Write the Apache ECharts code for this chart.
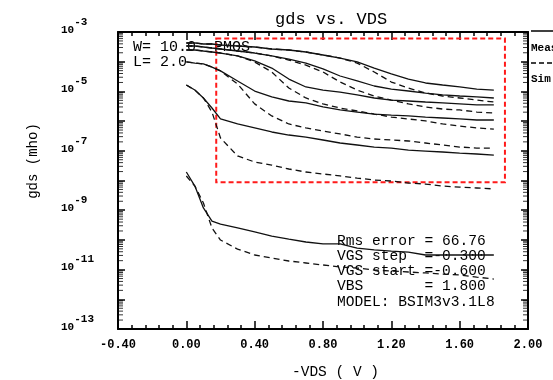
<!DOCTYPE html>
<html>
<head>
<meta charset="utf-8">
<title>gds vs. VDS</title>
<script src="https://cdn.jsdelivr.net/npm/echarts@6/dist/echarts.min.js"></script>
<style>
  html, body { margin: 0; padding: 0; background: #fff; }
  #chart { width: 553px; height: 380px; }
</style>
</head>
<body>
<div id="chart"></div>
<script>
// -VDS sample points (V), shared by every curve
const vds = [0, 0.05, 0.1, 0.15, 0.2, 0.3, 0.4, 0.5, 0.6, 0.7, 0.8, 0.9, 1.0, 1.1, 1.2, 1.3, 1.4, 1.5, 1.6, 1.7, 1.8]

// measured gds (mho), one array per VGS step (highest |VGS| first)
const meas1 = [4.27e-4, 4.27e-4, 3.94e-4, 3.94e-4, 3.65e-4, 3.38e-4, 3.13e-4, 2.68e-4, 2.48e-4, 2.12e-4, 1.68e-4, 1.33e-4, 9.8e-5, 6.1e-5, 3.9e-5, 2.6e-5, 1.92e-5, 1.64e-5, 1.41e-5, 1.2e-5, 1.11e-5]
const meas2 = [3.38e-4, 3.38e-4, 3.13e-4, 2.89e-4, 2.68e-4, 2.29e-4, 1.96e-4, 1.56e-4, 1.23e-4, 9.0e-5, 5.7e-5, 3.3e-5, 2.24e-5, 1.52e-5, 1.2e-5, 1.03e-5, 8.8e-6, 7.6e-6, 7.0e-6, 6.5e-6, 6.0e-6]
const meas3 = [2.48e-4, 2.48e-4, 2.29e-4, 2.12e-4, 1.96e-4, 1.56e-4, 1.06e-4, 6.1e-5, 2.6e-5, 1.41e-5, 1.11e-5, 9.5e-6, 7.6e-6, 6.0e-6, 5.1e-6, 4.75e-6, 4.4e-6, 4.1e-6, 3.8e-6, 3.5e-6, 3.5e-6]
const meas4 = [9.8e-5, 9.0e-5, 8.4e-5, 6.6e-5, 4.9e-5, 2.24e-5, 1.03e-5, 6.5e-6, 4.75e-6, 4.1e-6, 3.0e-6, 2.37e-6, 2.02e-6, 1.73e-6, 1.6e-6, 1.49e-6, 1.37e-6, 1.27e-6, 1.18e-6, 1.09e-6, 1.09e-6]
const meas5 = [1.64e-5, 1.11e-5, 6.0e-6, 2.76e-6, 1.18e-6, 8.0e-7, 5.9e-7, 4.3e-7, 3.4e-7, 2.9e-7, 2.31e-7, 1.83e-7, 1.57e-7, 1.34e-7, 1.24e-7, 1.06e-7, 9.8e-8, 9.1e-8, 8.4e-8, 7.8e-8, 7.2e-8]
const meas6 = [1.93e-8, 6.5e-9, 1.19e-9, 4.3e-10, 3.4e-10, 2.52e-10, 1.85e-10, 1.35e-10, 1.07e-10, 8.5e-11, 7.3e-11, 7.3e-11, 5.3e-11, 4.6e-11, 4.2e-11, 3.9e-11, 3.1e-11, 3.1e-11, 3.1e-11, 3.1e-11, 3.1e-11]

// simulated gds (mho), same VGS order
const sim1 = [4.27e-4, 4.27e-4, 3.94e-4, 3.94e-4, 3.65e-4, 3.38e-4, 3.13e-4, 2.68e-4, 2.48e-4, 2.12e-4, 1.68e-4, 1.33e-4, 9.0e-5, 4.5e-5, 2.07e-5, 1.3e-5, 8.8e-6, 7.0e-6, 6.0e-6, 5.1e-6, 4.4e-6]
const sim2 = [3.38e-4, 3.38e-4, 3.13e-4, 2.89e-4, 2.68e-4, 2.29e-4, 1.96e-4, 1.56e-4, 1.14e-4, 7.7e-5, 4.5e-5, 2.07e-5, 1.11e-5, 7.0e-6, 5.1e-6, 3.8e-6, 3.0e-6, 2.55e-6, 2.37e-6, 2.02e-6, 1.87e-6]
const sim3 = [2.48e-4, 2.48e-4, 2.29e-4, 2.12e-4, 1.96e-4, 1.56e-4, 9.8e-5, 4.5e-5, 1.3e-5, 6.0e-6, 3.8e-6, 2.76e-6, 2.19e-6, 1.73e-6, 1.37e-6, 1.18e-6, 1.01e-6, 8.0e-7, 6.8e-7, 5.9e-7, 5.4e-7]
const sim4 = [9.8e-5, 9.0e-5, 8.4e-5, 6.6e-5, 4.9e-5, 1.77e-5, 3.8e-6, 1.49e-6, 8.0e-7, 5.9e-7, 4.6e-7, 3.7e-7, 2.9e-7, 2.5e-7, 2.31e-7, 2.14e-7, 1.83e-7, 1.57e-7, 1.34e-7, 1.24e-7, 1.24e-7]
const sim5 = [1.64e-5, 1.11e-5, 6.0e-6, 2.02e-6, 2.7e-7, 6.7e-8, 4.2e-8, 3.3e-8, 2.44e-8, 1.93e-8, 1.66e-8, 1.42e-8, 1.21e-8, 1.04e-8, 9.6e-9, 8.2e-9, 7.6e-9, 6.5e-9, 6.0e-9, 5.6e-9, 5.2e-9]
const sim6 = [1.42e-8, 6.5e-9, 1.75e-9, 2.52e-10, 9.9e-11, 4.9e-11, 3.1e-11, 2.46e-11, 1.95e-11, 1.67e-11, 1.43e-11, 1.22e-11, 1.13e-11, 9.7e-12, 9.0e-12, 8.3e-12, 7.7e-12, 7.1e-12, 6.6e-12, 5.6e-12, 4.8e-12]

const measList = [meas1, meas2, meas3, meas4, meas5, meas6]
const simList = [sim1, sim2, sim3, sim4, sim5, sim6]

// axis ranges
const xRange = [-0.4, 2.0]
const yRange = [1e-13, 1e-3]

// red zoom box corners (VDS, gds)
const boxX = [0.175, 1.865]
const boxY = [6.1e-4, 8.7e-9]

// text block in lower right
const infoLines = [
  'Rms error = 66.76',
  'VGS step  =-0.300',
  'VGS start =-0.600',
  'VBS       = 1.800',
  'MODEL: BSIM3v3.1L8'
]

const mono = '"Liberation Mono", "DejaVu Sans Mono", monospace'

// log minor tick positions (2..9 in each decade) for the left and right frame
const minorLeft = []
const minorRight = []
for (let k = -13; k < -3; k++) {
  for (let d = 2; d <= 9; d++) {
    minorLeft.push([xRange[0], d * Math.pow(10, k)])
    minorRight.push([xRange[1], d * Math.pow(10, k)])
  }
}

function toPairs(arr) {
  return vds.map((x, i) => [x, arr[i]])
}

const series = []
measList.forEach((arr, i) => {
  series.push({
    type: 'line',
    data: toPairs(arr),
    showSymbol: false,
    lineStyle: { color: '#111', width: 1.3, type: 'solid' },
    // the red box sits on the first series
    markArea: i === 0 ? {
      silent: true,
      itemStyle: { color: 'rgba(0,0,0,0)', borderColor: '#ff1a1a', borderWidth: 2, borderType: [5, 3] },
      data: [[{ coord: [boxX[0], boxY[0]] }, { coord: [boxX[1], boxY[1]] }]]
    } : undefined
  })
})
simList.forEach(arr => {
  series.push({
    type: 'line',
    data: toPairs(arr),
    showSymbol: false,
    lineStyle: { color: '#111', width: 1.3, type: [6, 4] }
  })
})
// minor ticks drawn as thin rect symbols hugging the frame
series.push({
  type: 'scatter',
  data: minorLeft,
  symbol: 'rect',
  symbolSize: [5, 1],
  symbolOffset: [2.5, 0],
  itemStyle: { color: '#000' },
  silent: true,
  clip: false
})
series.push({
  type: 'scatter',
  data: minorRight,
  symbol: 'rect',
  symbolSize: [5, 1],
  symbolOffset: [-2.5, 0],
  itemStyle: { color: '#000' },
  silent: true,
  clip: false
})

const xAxisBase = {
  type: 'value',
  min: xRange[0],
  max: xRange[1],
  interval: 0.4,
  axisLine: { onZero: false, lineStyle: { color: '#000', width: 2 } },
  axisTick: { inside: true, length: 8, lineStyle: { color: '#000', width: 1.5 } },
  minorTick: { show: true, splitNumber: 5, length: 4, lineStyle: { color: '#000', width: 1.5 } },
  splitLine: { show: false }
}

const yAxisBase = {
  type: 'log',
  logBase: 10,
  min: yRange[0],
  max: yRange[1],
  interval: 1,
  axisLine: { onZero: false, lineStyle: { color: '#000', width: 2 } },
  axisTick: { inside: true, length: 7, lineStyle: { color: '#000', width: 1.5 } },
  splitLine: { show: false }
}

const option = {
  animation: false,
  grid: { left: 118, right: 25, top: 32, bottom: 51, containLabel: false },
  xAxis: [
    Object.assign({}, xAxisBase, {
      position: 'bottom',
      axisLabel: {
        margin: 10,
        fontFamily: mono, fontSize: 12, fontWeight: 'bold', color: '#000',
        formatter: v => v.toFixed(2)
      }
    }),
    Object.assign({}, xAxisBase, { position: 'top', axisLabel: { show: false } })
  ],
  yAxis: [
    Object.assign({}, yAxisBase, {
      position: 'left',
      axisLabel: {
        align: 'left',
        margin: 57,
        color: '#000',
        formatter: v => {
          const e = Math.round(Math.log10(v))
          if (Math.abs(e) % 2 === 0) return ''
          return '{b|10}{s|' + e + '}'
        },
        rich: {
          b: { fontFamily: mono, fontSize: 11, fontWeight: 'bold', color: '#000', padding: [0, 0, 4, 0] },
          s: { fontFamily: mono, fontSize: 11, fontWeight: 'bold', color: '#000', padding: [0, 0, 20, 0] }
        }
      }
    }),
    Object.assign({}, yAxisBase, { position: 'right', axisLabel: { show: false } })
  ],
  series: series,
  graphic: [
    // title
    { type: 'text', x: 275, y: 19, style: { text: 'gds vs. VDS', font: '17px ' + mono, fill: '#000', align: 'left', verticalAlign: 'middle' } },
    // axis names
    { type: 'text', x: 292, y: 372, style: { text: '-VDS ( V )', font: '14.5px ' + mono, fill: '#000', align: 'left', verticalAlign: 'middle' } },
    { type: 'text', x: 33, y: 161, rotation: Math.PI / 2, style: { text: 'gds (mho)', font: '14px ' + mono, fill: '#000', align: 'center', verticalAlign: 'middle' } },
    // device text
    { type: 'text', x: 133, y: 47, style: { text: 'W= 10.0  PMOS', font: '15px ' + mono, fill: '#000', align: 'left', verticalAlign: 'middle' } },
    { type: 'text', x: 133, y: 62, style: { text: 'L= 2.0', font: '15px ' + mono, fill: '#000', align: 'left', verticalAlign: 'middle' } },
    // info block
    { type: 'text', x: 337, y: 233, style: { text: infoLines.join('\n'), font: '14.6px ' + mono, lineHeight: 15.3, fill: '#000', align: 'left', verticalAlign: 'top' } },
    // legend box at the right edge
    { type: 'line', shape: { x1: 531, y1: 31, x2: 553, y2: 31 }, style: { stroke: '#000', lineWidth: 1.5 } },
    { type: 'text', x: 531, y: 48, style: { text: 'Meas', font: 'bold 11px ' + mono, fill: '#000', align: 'left', verticalAlign: 'middle' } },
    { type: 'line', shape: { x1: 531, y1: 63, x2: 553, y2: 63 }, style: { stroke: '#000', lineWidth: 1.5, lineDash: [5, 3] } },
    { type: 'text', x: 531, y: 79, style: { text: 'Sim', font: 'bold 11px ' + mono, fill: '#000', align: 'left', verticalAlign: 'middle' } }
  ]
}

const chart = echarts.init(document.getElementById('chart'))
chart.setOption(option)
</script>
</body>
</html>
